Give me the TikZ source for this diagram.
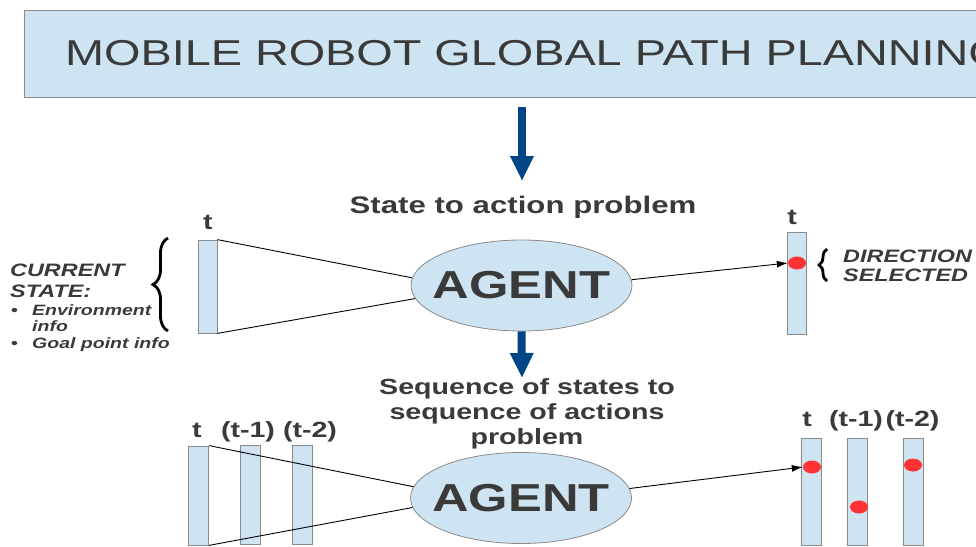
\documentclass[tikz,border=0pt]{standalone}
\usepackage{fontspec}
\setmainfont[FakeStretch=1.3]{Liberation Sans}
\usetikzlibrary{arrows.meta,shapes.geometric,decorations.pathreplacing}
\definecolor{panel}{HTML}{CFE4F2}
\definecolor{rim}{HTML}{8A8A8A}
\definecolor{ink}{HTML}{3A3A3A}
\definecolor{flow}{HTML}{004586}
\definecolor{dotred}{HTML}{FF3333}
\newcommand{\agentword}{\makebox[0pt]{AGENT}}
\begin{document}
\begin{tikzpicture}[x=1pt,y=-1pt,
  bar/.style={draw=rim, fill=panel, line width=0.8pt, minimum width=20pt, inner sep=0pt},
  agent/.style={ellipse, draw=rim, fill=panel, line width=0.8pt, minimum width=221pt,
    minimum height=91pt, inner sep=0pt, text=ink, font=\bfseries\fontsize{39}{39}\selectfont},
  pick/.style={ellipse, fill=dotred, minimum width=18pt, minimum height=13pt, inner sep=0pt},
  bigarrow/.style={draw=flow, line width=8pt, -{Triangle[width=22pt,length=25pt]}},
  link/.style={draw=black, line width=0.9pt},
  linkarrow/.style={link, -{Latex[length=11pt,width=7pt]}},
  curly/.style={decorate, decoration={brace, amplitude=#1}, line width=2.8pt, draw=black},
  steplbl/.style={inner sep=0pt, anchor=base, text=ink, font=\bfseries\fontsize{22}{22}\selectfont},
  caption/.style={inner sep=0pt, text=ink, align=center, font=\bfseries\fontsize{22}{25}\selectfont},
  note/.style={inner sep=0pt, text=ink, align=left, anchor=north west}
]
\clip (0,0) rectangle (976,546);

% heading banner
\node[draw=rim, fill=panel, line width=0.8pt, anchor=north west, minimum width=1000pt,
  minimum height=87pt, inner sep=0pt] (title) at (24,10) {};
\node[anchor=base west, inner sep=0pt, text=ink, font=\fontsize{36}{40}\selectfont]
  (titletext) at (65,65.7) {MOBILE ROBOT GLOBAL PATH PLANNING};

\coordinate (a1s) at (522,107);
\coordinate (a1e) at (522,181);
\draw[bigarrow] (a1s) -- (a1e);

% single-step problem
\node[caption, anchor=base, font=\bfseries\fontsize{24}{24}\selectfont] (q1) at (523,213) {State to action problem};
\node[agent] (ag1) at (521.5,285.5) {\agentword};

\node[bar, minimum width=19pt, minimum height=93pt] (s1) at (207.5,286.5) {};
\node[steplbl] (s1t) at (208,229) {t};
\draw[link] (s1.north east) -- (ag1.176);
\draw[link] (s1.south east) -- (ag1.187);

\draw[curly=15pt] (168,331) -- (168,238);
\node[note, font=\bfseries\itshape\fontsize{18}{21}\selectfont] (cur) at (10,264.1) {CURRENT\\STATE:};
\node[note, font=\bfseries\itshape\fontsize{15}{16.5}\selectfont] (curlist) at (10,303.5)
  {\begin{tabular}{@{}l@{}l@{}}
   \makebox[22pt][l]{\hspace{1pt}\upshape\textbullet} & Environment\\
   & info\\
   \makebox[22pt][l]{\hspace{1pt}\upshape\textbullet} & Goal point info
   \end{tabular}};

\node[bar, minimum width=19pt, minimum height=102pt] (r1) at (796.5,283) {};
\node[steplbl] (r1t) at (792,224) {t};
\node[pick] (d1) at (797,263) {};
\draw[linkarrow] (ag1.3) -- (d1.west);
\draw[curly=8pt] (827,281) -- (827,249);
\node[note, font=\bfseries\itshape\fontsize{18}{19}\selectfont] (dir) at (843,250.1) {DIRECTION\\SELECTED};

\coordinate (a2e) at (522,378);
\draw[bigarrow] (ag1.south) -- (a2e);

% sequence problem
\node[caption, anchor=north] (q2) at (527,378) {Sequence of states to\\sequence of actions\\problem};
\node[agent] (ag2) at (521,498) {\agentword};

\node[bar, minimum height=99pt] (b1) at (198.5,495.5) {};
\node[bar, minimum height=99pt] (b2) at (250.5,494.5) {};
\node[bar, minimum height=99pt] (b3) at (302.5,494.5) {};
\node[steplbl] (b1t) at (197,437) {t};
\node[steplbl] (b2t) at (248,437) {(t-1)};
\node[steplbl] (b3t) at (310,437) {(t-2)};
\draw[link] (b1.north east) -- (ag2.174.8);
\draw[link] (b1.south east) -- (ag2.185.2);

\node[bar, minimum height=107pt] (c1) at (811,491.5) {};
\node[bar, minimum height=107pt] (c2) at (857.5,491.5) {};
\node[bar, minimum height=107pt] (c3) at (913,491.5) {};
\node[steplbl] (c1t) at (807,426) {t};
\node[steplbl] (c2t) at (856,426) {(t-1)};
\node[steplbl] (c3t) at (912.5,426) {(t-2)};
\node[pick] (e1) at (812,467) {};
\node[pick] (e2) at (859,507) {};
\node[pick] (e3) at (913,465) {};
\draw[linkarrow] (ag2.5.9) -- (e1.west);
\end{tikzpicture}
\end{document}
